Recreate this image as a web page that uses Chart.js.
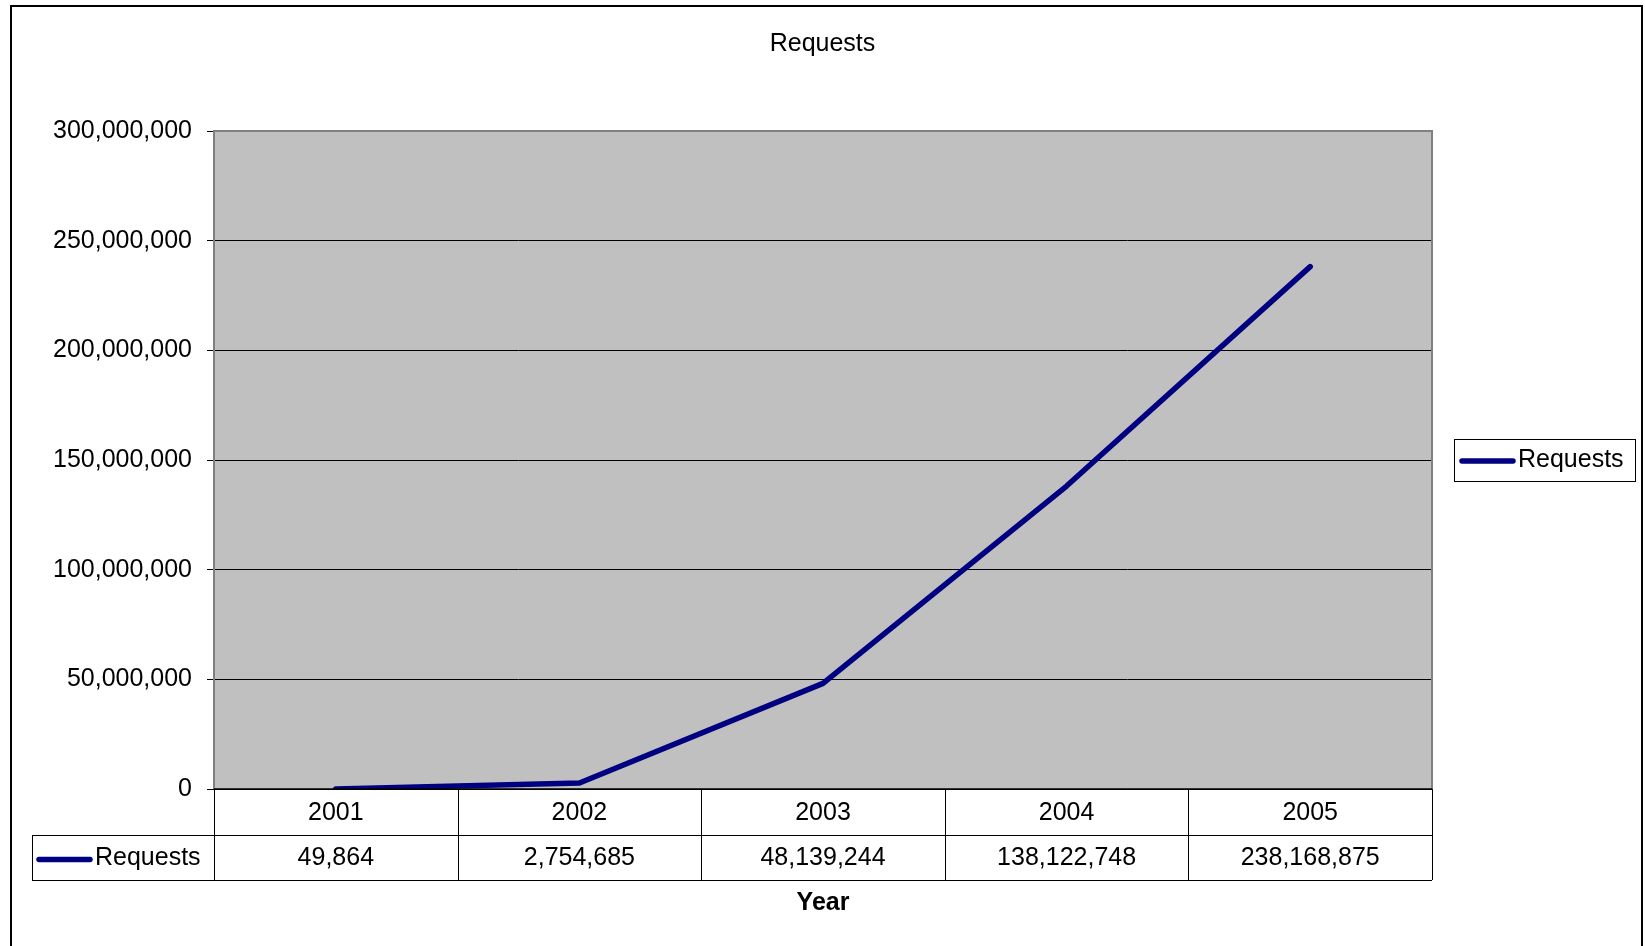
<!DOCTYPE html>
<html>
<head>
<meta charset="utf-8">
<title>Requests</title>
<script src="https://cdn.jsdelivr.net/npm/chart.js@4.4.1/dist/chart.umd.min.js"></script>
<style>
  html, body { margin: 0; padding: 0; background: #fff; }
  canvas { display: block; }
</style>
</head>
<body>
<canvas id="myChart" width="1645" height="946"></canvas>
<script>
const years = ['2001', '2002', '2003', '2004', '2005'];
const requests = [49864, 2754685, 48139244, 138122748, 238168875];
const seriesName = 'Requests';
const yMax = 300000000;
const yStep = 50000000;

const NAVY = '#000080';
const FONT = '"Liberation Sans", Arial, sans-serif';
const FSIZE = 25;

document.addEventListener('DOMContentLoaded', function() {
  initChart();
});

function fmt(v) {
  return Number(v).toLocaleString('en-US');
}

// grey plot background, outer frame
const backdrop = {
  id: 'backdrop',
  beforeDraw(chart) {
    const ctx = chart.ctx;
    const a = chart.chartArea;
    ctx.save();
    ctx.fillStyle = '#fff';
    ctx.fillRect(0, 0, chart.width, chart.height);
    ctx.strokeStyle = '#000';
    ctx.lineWidth = 2;
    ctx.strokeRect(11, 6, 1631, 1000);
    ctx.fillStyle = '#c0c0c0';
    ctx.fillRect(a.left, a.top, a.right - a.left, a.bottom - a.top);
    ctx.restore();
  },
  afterDatasetsDraw(chart) {
    const ctx = chart.ctx;
    const a = chart.chartArea;
    ctx.save();
    ctx.strokeStyle = '#808080';
    ctx.lineWidth = 2;
    ctx.beginPath();
    ctx.moveTo(a.left, a.bottom);
    ctx.lineTo(a.left, a.top);
    ctx.lineTo(a.right, a.top);
    ctx.lineTo(a.right, a.bottom);
    ctx.stroke();
    ctx.strokeStyle = '#000';
    ctx.lineWidth = 1.5;
    ctx.beginPath();
    ctx.moveTo(a.left, a.bottom);
    ctx.lineTo(a.right, a.bottom);
    ctx.stroke();
    ctx.restore();
  }
};

// data table under the x axis + boxed legend on the right
const dataTable = {
  id: 'dataTable',
  afterDraw(chart) {
    const ctx = chart.ctx;
    const a = chart.chartArea;
    const x = chart.scales.x;
    const half = (x.getPixelForValue(1) - x.getPixelForValue(0)) / 2;
    const row1 = a.bottom + 46;
    const row2 = a.bottom + 91;
    const tableLeft = 32;

    ctx.save();
    ctx.strokeStyle = '#000';
    ctx.lineWidth = 1;
    ctx.beginPath();
    for (let i = 0; i <= years.length; i++) {
      const px = Math.round(x.getPixelForValue(i) - half) + 0.5;
      ctx.moveTo(px, a.bottom);
      ctx.lineTo(px, row2);
    }
    ctx.moveTo(tableLeft, row1 + 0.5);
    ctx.lineTo(a.right, row1 + 0.5);
    ctx.moveTo(tableLeft, row2 + 0.5);
    ctx.lineTo(a.right, row2 + 0.5);
    ctx.moveTo(tableLeft + 0.5, row1);
    ctx.lineTo(tableLeft + 0.5, row2);
    ctx.stroke();

    ctx.fillStyle = '#000';
    ctx.font = FSIZE + 'px ' + FONT;
    ctx.textAlign = 'center';
    ctx.textBaseline = 'middle';
    years.forEach(function(y, i) {
      const cx = x.getPixelForValue(i);
      ctx.fillText(y, cx, (a.bottom + row1) / 2 + 1);
      ctx.fillText(fmt(requests[i]), cx, (row1 + row2) / 2 + 1);
    });

    // legend key inside the table
    drawKey(ctx, tableLeft + 7, 90, (row1 + row2) / 2 + 2);

    // right legend box
    const bx = a.right + 22;
    const by = (a.top + a.bottom) / 2 - 21;
    ctx.strokeStyle = '#000';
    ctx.lineWidth = 1;
    ctx.strokeRect(bx + 0.5, by + 0.5, 181, 42);
    drawKey(ctx, bx + 8, bx + 59, by + 22);
    ctx.restore();

    function drawKey(ctx, x0, x1, cy) {
      ctx.save();
      ctx.strokeStyle = NAVY;
      ctx.lineWidth = 5.5;
      ctx.lineCap = 'round';
      ctx.beginPath();
      ctx.moveTo(x0, cy);
      ctx.lineTo(x1, cy);
      ctx.stroke();
      ctx.fillStyle = '#000';
      ctx.font = FSIZE + 'px ' + FONT;
      ctx.textAlign = 'left';
      ctx.textBaseline = 'middle';
      ctx.fillText(seriesName, x1 + 5, cy - 1);
      ctx.restore();
    }
  }
};

function initChart() {
  Chart.defaults.font.family = FONT;
  Chart.defaults.color = '#000';
  const ctx = document.getElementById('myChart').getContext('2d');
  return new Chart(ctx, {
    type: 'line',
    data: {
      labels: years,
      datasets: [{
        label: seriesName,
        data: requests,
        borderColor: NAVY,
        backgroundColor: NAVY,
        borderWidth: 5.5,
        borderCapStyle: 'round',
        borderJoinStyle: 'round',
        pointRadius: 0,
        tension: 0
      }]
    },
    options: {
      responsive: false,
      animation: false,
      layout: { padding: 0 },
      plugins: {
        legend: { display: false },
        tooltip: { enabled: false },
        title: {
          display: true,
          text: 'Requests',
          font: { size: FSIZE, weight: 'normal' },
          color: '#000',
          padding: { top: 29, bottom: 72 }
        }
      },
      scales: {
        x: {
          offset: true,
          grid: { display: false },
          border: { display: false },
          ticks: { display: false },
          title: {
            display: true,
            text: 'Year',
            font: { size: FSIZE, weight: 'bold' },
            color: '#000',
            padding: { top: 0, bottom: 27.5 }
          },
          afterFit(scale) { scale.height = 157; }
        },
        y: {
          min: 0,
          max: yMax,
          border: { display: false },
          grid: {
            color: function(c) { return c.tick && c.tick.value === yMax ? 'rgba(0,0,0,0)' : '#000'; },
            tickColor: '#000',
            lineWidth: 1,
            tickLength: 7
          },
          ticks: {
            stepSize: yStep,
            padding: 15,
            font: { size: FSIZE },
            color: '#000',
            callback: function(v) { return fmt(v); }
          },
          afterFit(scale) { scale.width = 214; }
        },
        // empty right-hand axis keeps room for the legend box
        yRight: {
          position: 'right',
          display: true,
          min: 0,
          max: yMax,
          grid: { display: false },
          border: { display: false },
          ticks: { display: false },
          afterFit(scale) { scale.width = 213; }
        }
      }
    },
    plugins: [backdrop, dataTable]
  });
}
</script>
</body>
</html>
